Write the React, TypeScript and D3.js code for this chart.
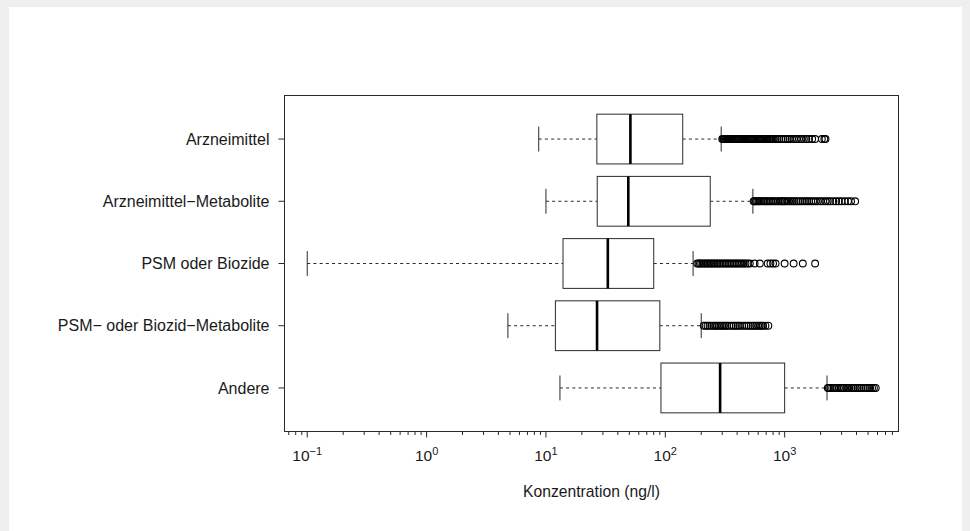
import React from "react";
import * as d3 from "d3";

// Categories, top to bottom as displayed
const categories = [
  "Arzneimittel",
  "Arzneimittel\u2212Metabolite",
  "PSM oder Biozide",
  "PSM\u2212 oder Biozid\u2212Metabolite",
  "Andere",
];

const whiskerLow = [8.7, 10.0, 0.1, 4.8, 13.1];
const q1 = [26.7, 26.9, 13.9, 12.0, 92];
const medians = [51, 49, 33, 26.8, 288];
const q3 = [140, 238, 80, 90, 1000];
const whiskerHigh = [294, 542, 171, 200, 2265];

const outArzneimittel = [
  300, 305, 310, 316, 322, 328, 334, 340, 347, 354, 361, 368, 375, 383, 391,
  399, 407, 415, 424, 433, 442, 451, 460, 470, 480, 490, 500, 511, 522, 533,
  545, 557, 569, 581, 594, 607, 620, 634, 648, 662, 677, 692, 707, 723, 740,
  757, 775, 793, 812, 840, 870, 900, 940, 980, 1020, 1060, 1100, 1150, 1200,
  1260, 1320, 1380, 1450, 1520, 1600, 1700, 1800, 2050, 2150, 2200,
];
const outArzMetabolite = [
  550, 560, 575, 590, 605, 620, 640, 660, 680, 700, 720, 745, 770, 795, 820,
  850, 880, 910, 940, 960, 990, 1010, 1050, 1090, 1130, 1170, 1210, 1260, 1310,
  1360, 1420, 1480, 1540, 1600, 1670, 1740, 1820, 1900, 2000, 2100, 2200, 2300,
  2400, 2550, 2700, 2850, 3000, 3200, 3400, 3600, 3900,
];
const outPSM = [
  185, 190, 195, 200, 206, 212, 218, 224, 230, 237, 244, 251, 258, 266, 274,
  282, 290, 300, 310, 320, 330, 340, 350, 362, 374, 386, 398, 410, 425, 440,
  455, 470, 490, 510, 560, 620, 720, 760, 800, 840, 1000, 1190, 1420, 1800,
];
const outPSMMetabolite = [
  210, 218, 226, 235, 245, 255, 262, 270, 280, 290, 300, 310, 320, 330, 345,
  360, 375, 390, 405, 420, 440, 460, 480, 500, 520, 540, 560, 580, 600, 620,
  640, 660, 690, 730,
];
const outAndere = [
  2300, 2350, 2420, 2500, 2580, 2650, 2750, 2850, 2950, 3050, 3150, 3300, 3400,
  3500, 3650, 3800, 3950, 4100, 4250, 4400, 4600, 4800, 5000, 5200, 5400, 5600,
  5800,
];
const outliers = [outArzneimittel, outArzMetabolite, outPSM, outPSMMetabolite, outAndere];

const majorTicks = [0.1, 1, 10, 100, 1000];
const majorExponents = ["\u22121", "0", "1", "2", "3"];
const axisTitle = "Konzentration (ng/l)";

const W = 970;
const H = 531;
const frame = { left: 284.5, right: 898.5, top: 95.5, bottom: 431.5 };
const FONT = "'Liberation Sans', Arial, Helvetica, sans-serif";

export default function App() {
  const allVals = [...whiskerLow, ...whiskerHigh, ...outliers.flat()];
  const lmin = Math.log10(d3.min(allVals) as number);
  const lmax = Math.log10(d3.max(allVals) as number);
  const ext = (lmax - lmin) * 0.04;
  const x = d3
    .scaleLog()
    .domain([Math.pow(10, lmin - ext), Math.pow(10, lmax + ext)])
    .range([frame.left, frame.right]);
  const n = categories.length;
  const y = d3
    .scaleLinear()
    .domain([0.5 - n * 0.04, n + 0.5 + n * 0.04])
    .range([frame.bottom, frame.top]);
  const pos = (i: number) => n - i; // first category at top
  const boxHalf = y(0) - y(0.4); // box width 0.8
  const stapleHalf = boxHalf / 2;

  const minorTicks = x.ticks().filter((t) => {
    const l = Math.log10(t);
    return Math.abs(l - Math.round(l)) > 1e-6;
  });

  const line = "#2a2a2a";

  return (
    <svg
      width={W}
      height={H}
      style={{ position: "absolute", left: 0, top: 0, display: "block" }}
      fontFamily={FONT}
    >
      <rect x={0} y={0} width={W} height={H} fill="#efefef" />
      <rect x={9} y={7} width={953} height={H - 7} fill="#ffffff" />

      {/* frame */}
      <rect
        x={frame.left}
        y={frame.top}
        width={frame.right - frame.left}
        height={frame.bottom - frame.top}
        fill="none"
        stroke={line}
        strokeWidth={1}
      />

      {/* boxes */}
      {categories.map((c, i) => {
        const cy = y(pos(i));
        return (
          <g key={c}>
            <line
              x1={x(whiskerLow[i])}
              x2={x(q1[i])}
              y1={cy}
              y2={cy}
              stroke={line}
              strokeDasharray="3,3.2"
            />
            <line
              x1={x(q3[i])}
              x2={x(whiskerHigh[i])}
              y1={cy}
              y2={cy}
              stroke={line}
              strokeDasharray="3,3.2"
            />
            <line
              x1={x(whiskerLow[i])}
              x2={x(whiskerLow[i])}
              y1={cy - stapleHalf}
              y2={cy + stapleHalf}
              stroke={line}
            />
            <line
              x1={x(whiskerHigh[i])}
              x2={x(whiskerHigh[i])}
              y1={cy - stapleHalf}
              y2={cy + stapleHalf}
              stroke={line}
            />
            <rect
              x={x(q1[i])}
              y={cy - boxHalf}
              width={x(q3[i]) - x(q1[i])}
              height={boxHalf * 2}
              fill="#ffffff"
              stroke={line}
            />
            <line
              x1={x(medians[i])}
              x2={x(medians[i])}
              y1={cy - boxHalf}
              y2={cy + boxHalf}
              stroke="#000"
              strokeWidth={2.6}
            />
            {outliers[i].map((v, k) => (
              <circle
                key={k}
                cx={x(v)}
                cy={cy}
                r={3.4}
                fill="none"
                stroke="#000"
                strokeWidth={1.1}
              />
            ))}
            {/* y tick + label */}
            <line
              x1={frame.left}
              x2={frame.left - 6}
              y1={cy}
              y2={cy}
              stroke={line}
            />
            <text
              x={frame.left - 15}
              y={cy}
              dy="0.35em"
              textAnchor="end"
              fontSize={16}
              fill="#1a1a1a"
            >
              {c}
            </text>
          </g>
        );
      })}

      {/* x axis */}
      {minorTicks.map((t, k) => (
        <line
          key={"m" + k}
          x1={x(t)}
          x2={x(t)}
          y1={frame.bottom}
          y2={frame.bottom + 3.5}
          stroke={line}
        />
      ))}
      {majorTicks.map((t, k) => (
        <g key={"M" + k}>
          <line
            x1={x(t)}
            x2={x(t)}
            y1={frame.bottom}
            y2={frame.bottom + 6}
            stroke={line}
          />
          <text
            x={x(t)}
            y={461}
            textAnchor="middle"
            fontSize={15.5}
            fill="#1a1a1a"
          >
            10
            <tspan dy={-6} fontSize={11}>
              {majorExponents[k]}
            </tspan>
          </text>
        </g>
      ))}
      <text
        x={(frame.left + frame.right) / 2}
        y={497}
        textAnchor="middle"
        fontSize={15.7}
        fill="#1a1a1a"
      >
        {axisTitle}
      </text>
    </svg>
  );
}
